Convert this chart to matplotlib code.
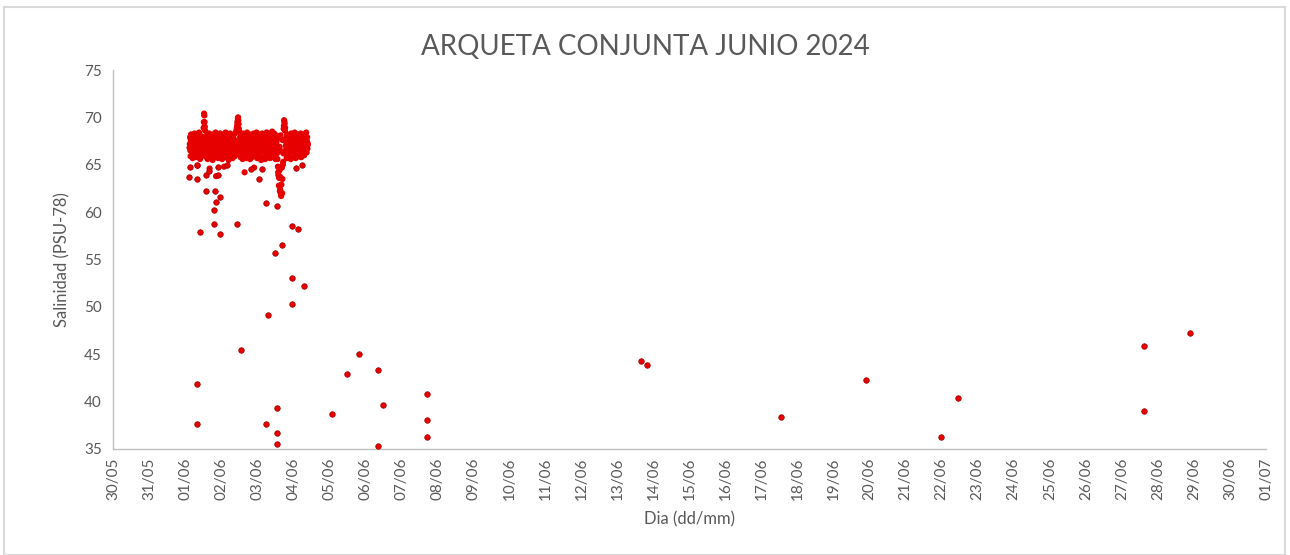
import matplotlib
matplotlib.use("Agg")
import matplotlib.pyplot as plt
import matplotlib.dates as mdates
import pandas as pd
from matplotlib.patches import Rectangle

# ---------------- data ----------------
title = "ARQUETA CONJUNTA JUNIO 2024"
x_label = "Dia (dd/mm)"
y_label = "Salinidad (PSU-78)"

# dense band: readings every 20 min starting 01/06/2024 03:00
band_start = "2024-06-01 03:00"
band_step = "20min"
band_values = [
    66.8, 67.9, 65.9, 68.2, 66.4, 67.5, 65.7, 68.0, 67.1, 66.2, 68.3, 66.9,
    65.8, 67.7, 66.5, 68.1, 64.9, 67.3, 66.0, 68.4, 66.7, 65.6, 67.8, 66.3,
    68.0, 66.6, 67.4, 66.0, 68.9, 70.4, 69.5, 68.6, 65.9, 67.6, 66.3, 68.1,
    65.6, 67.2, 66.7, 68.3, 64.6, 67.0, 65.9, 68.0, 66.4, 67.7, 65.5, 68.2,
    66.9, 65.8, 67.6, 66.2, 68.4, 63.8, 67.3, 66.5, 68.1, 65.7, 67.9, 66.1,
    67.5, 68.3, 65.9, 66.8, 68.0, 65.6, 67.1, 66.4, 68.2, 64.8, 67.8, 66.0,
    68.4, 66.7, 65.8, 67.4, 66.2, 68.1, 65.5, 67.6, 66.9, 68.3, 65.9, 67.0,
    66.3, 68.0, 65.7, 67.8, 66.6, 68.2, 65.9, 67.2, 68.4, 66.1, 68.7, 69.1,
    69.6, 70.0, 69.3, 68.5, 66.4, 67.9, 65.8, 68.1, 66.7, 67.5, 65.6, 68.3,
    66.0, 67.7, 64.2, 68.0, 66.5, 67.3, 65.7, 68.4, 66.9, 65.9, 67.8, 66.2,
    68.2, 65.6, 67.4, 66.8, 68.1, 65.8, 67.0, 66.3, 68.3, 64.7, 67.6, 66.0,
    67.9, 66.6, 68.4, 65.7, 67.2, 66.1, 68.0, 65.9, 67.5, 66.7, 68.2, 65.5,
    67.1, 68.3, 66.4, 65.8, 67.8, 66.9, 68.1, 65.6, 67.4, 66.2, 68.4, 66.0,
    67.7, 65.9, 68.2, 66.5, 67.3, 65.7, 68.0, 66.8, 67.6, 68.5, 66.1, 67.9,
    65.8, 68.3, 66.6, 67.2, 65.6, 68.1, 66.3, 67.9, 66.5, 64.2, 67.8, 63.6,
    66.9, 62.4, 68.1, 61.7, 66.4, 62.0, 67.6, 65.3, 68.8, 69.7, 69.3, 68.9,
    66.2, 67.8, 65.7, 68.2, 66.9, 67.4, 65.9, 68.0, 66.4, 67.6, 65.6, 68.3,
    66.7, 67.1, 68.1, 65.8, 67.9, 66.2, 68.4, 66.8, 65.7, 67.5, 66.0, 68.2,
    67.3, 65.9, 68.0, 66.6, 67.7, 66.1, 68.3, 65.8, 67.2, 66.9, 68.1, 66.4,
    67.8, 66.0, 68.2, 66.7, 67.4, 68.4, 66.3, 67.9, 67.1,
]
# second reading channel of the band, offset by 10 min
band_b_start = "2024-06-01 03:10"
band_b_values = [
    67.2, 66.5, 67.6, 66.9, 67.3, 66.6, 67.8, 66.4, 67.5, 67.0, 66.7, 67.4,
    66.8, 67.1, 66.3, 67.5, 66.9, 67.7, 66.5, 67.2, 67.0, 66.6, 67.3, 66.9,
    67.4, 66.7, 67.0, 67.8, 69.5, 70.2, 69.0, 67.3, 66.8, 67.1, 66.5, 67.6,
    66.9, 67.4, 66.6, 67.2, 66.4, 67.7, 66.8, 67.0, 67.3, 66.5, 67.6, 66.9,
    67.1, 66.7, 67.4, 66.6, 67.0, 67.5, 66.4, 67.2, 66.8, 67.6, 66.6, 67.3,
    66.9, 67.2, 66.5, 67.6, 66.7, 67.0, 66.4, 67.4, 66.8, 67.1, 66.6, 67.5,
    67.0, 66.5, 67.3, 66.8, 67.6, 66.6, 67.1, 66.9, 67.4, 66.7, 67.2, 66.4,
    67.5, 66.8, 67.1, 66.6, 67.3, 66.9, 67.6, 66.5, 67.0, 67.4, 68.9, 69.4,
    69.9, 69.7, 68.8, 67.2, 66.9, 67.3, 66.6, 67.0, 67.5, 66.7, 67.2, 66.8,
    67.4, 66.5, 67.1, 66.9, 67.6, 66.6, 67.0, 67.3, 66.4, 67.2, 66.8, 67.5,
    66.7, 67.1, 66.5, 67.4, 66.9, 67.2, 66.6, 67.6, 66.8, 67.0, 66.4, 67.3,
    66.9, 67.5, 66.7, 67.0, 66.5, 67.3, 66.8, 67.2, 66.6, 67.4, 66.9, 67.1,
    66.6, 67.4, 67.0, 66.8, 67.2, 66.5, 67.6, 66.9, 67.1, 66.7, 67.3, 66.6,
    67.0, 66.8, 67.5, 66.7, 67.1, 66.9, 67.4, 66.6, 67.2, 67.8, 66.9, 67.3,
    66.7, 67.2, 66.8, 67.0, 66.5, 67.4, 66.2, 65.6, 64.8, 63.9, 62.8, 64.4,
    62.2, 63.7, 61.9, 62.9, 64.7, 63.5, 65.0, 66.2, 69.1, 69.5, 68.6, 67.5,
    67.0, 66.7, 67.3, 66.8, 67.5, 66.6, 67.1, 66.9, 67.4, 66.5, 67.2, 66.8,
    67.3, 66.6, 67.0, 67.4, 66.8, 67.2, 66.5, 67.6, 66.9, 67.1, 66.7, 67.3,
    66.8, 67.2, 66.6, 67.5, 66.9, 67.0, 66.7, 67.4, 66.5, 67.3, 66.9, 67.1,
    66.6, 67.4, 66.8, 67.2, 66.9, 67.0, 67.5, 66.7, 67.2,
]

# isolated readings
sparse_times = [
    "2024-06-01 03:00", "2024-06-01 02:50", "2024-06-01 07:48", "2024-06-01 08:00",
    "2024-06-01 10:00", "2024-06-01 14:00", "2024-06-01 14:00", "2024-06-01 16:00",
    "2024-06-01 19:00", "2024-06-01 19:00", "2024-06-01 19:40", "2024-06-01 20:30",
    "2024-06-01 22:00", "2024-06-01 22:12", "2024-06-01 23:20", "2024-06-01 23:30",
    "2024-06-02 04:00", "2024-06-02 10:30", "2024-06-02 13:12", "2024-06-02 20:00",
    "2024-06-03 01:12", "2024-06-03 03:00", "2024-06-03 06:00", "2024-06-03 06:00",
    "2024-06-03 07:30", "2024-06-03 12:00", "2024-06-03 13:12", "2024-06-03 13:20",
    "2024-06-03 13:20", "2024-06-03 13:20", "2024-06-03 16:50", "2024-06-03 23:10",
    "2024-06-03 23:10", "2024-06-03 23:10", "2024-06-04 02:00", "2024-06-04 03:10",
    "2024-06-04 06:00", "2024-06-04 07:30", "2024-06-01 07:48", "2024-06-01 07:48",
    "2024-06-05 02:00", "2024-06-05 11:50", "2024-06-05 20:10", "2024-06-06 08:25",
    "2024-06-06 12:10", "2024-06-06 08:25", "2024-06-07 17:20", "2024-06-07 17:20",
    "2024-06-07 17:20", "2024-06-13 15:50", "2024-06-13 19:50", "2024-06-17 12:40",
    "2024-06-19 21:50", "2024-06-21 23:50", "2024-06-22 10:50", "2024-06-27 14:50",
    "2024-06-27 14:50", "2024-06-28 21:36",
]
sparse_values = [
    64.8, 63.7, 63.5, 65.0,
    57.9, 63.9, 62.2, 64.3,
    58.7, 60.2, 62.2, 61.1,
    64.8, 63.9, 61.6, 57.7,
    65.0, 58.7, 45.4, 64.6,
    63.5, 64.5, 61.0, 37.6,
    49.1, 55.7, 60.6, 39.3,
    36.7, 35.5, 56.5, 58.5,
    53.0, 50.3, 64.7, 58.2,
    65.0, 52.2, 41.9, 37.6,
    38.7, 42.9, 45.0, 43.3,
    39.6, 35.3, 40.8, 38.1,
    36.3, 44.3, 43.9, 38.4,
    42.3, 36.3, 40.4, 45.9,
    39.0, 47.2,
]

x_start = "2024-05-30"
x_end = "2024-07-01"
y_min, y_max, y_step = 35, 75, 5

# ---------------- plot ----------------
plt.rcParams["font.family"] = ["Lato", "DejaVu Sans"]
gray = "#595959"
red = "#E60000"

fig = plt.figure(figsize=(12.9, 5.55), dpi=100)
ax = fig.add_axes([113 / 1290, 106 / 555, (1266 - 113) / 1290, 379 / 555])

band_times = pd.date_range(band_start, periods=len(band_values), freq=band_step)
band_b_times = pd.date_range(band_b_start, periods=len(band_b_values), freq=band_step)
ax.scatter(band_times, band_values, s=20, color=red, edgecolors="none", zorder=3)
ax.scatter(band_b_times, band_b_values, s=20, color=red, edgecolors="none", zorder=3)
ax.scatter(pd.to_datetime(sparse_times), sparse_values, s=16, color=red,
           edgecolors="#A00000", linewidths=0.5, zorder=3)

ax.set_xlim(pd.Timestamp(x_start), pd.Timestamp(x_end))
ax.set_ylim(y_min, y_max)
ax.set_yticks(range(y_min, y_max + 1, y_step))
ax.xaxis.set_major_locator(mdates.DayLocator())
ax.xaxis.set_major_formatter(mdates.DateFormatter("%d/%m"))
for lbl in ax.get_xticklabels():
    lbl.set_rotation(90)

ax.tick_params(axis="both", length=0, colors=gray, labelsize=11)
ax.tick_params(axis="x", pad=6)
ax.tick_params(axis="y", pad=8)
for s in ("top", "right"):
    ax.spines[s].set_visible(False)
for s in ("left", "bottom"):
    ax.spines[s].set_color("#BFBFBF")
    ax.spines[s].set_linewidth(1.0)

ax.set_xlabel(x_label, color=gray, fontsize=12, labelpad=8)
ax.set_ylabel(y_label, color=gray, fontsize=12, labelpad=10)
fig.text(0.5, 0.915, title, ha="center", va="center", color=gray,
         fontsize=20)

fig.patches.append(Rectangle((4 / 1290, 0), 1281 / 1290, 548 / 555,
                             transform=fig.transFigure, fill=False,
                             edgecolor="#D9D9D9", linewidth=1.5))

fig.savefig("out.png", dpi=100)
